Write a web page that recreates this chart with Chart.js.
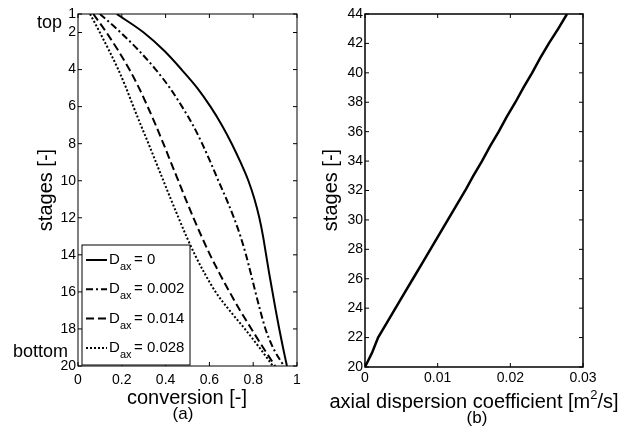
<!DOCTYPE html>
<html>
<head>
<meta charset="utf-8">
<script src="https://cdn.jsdelivr.net/npm/chart.js@4"></script>
<style>
  body { margin: 0; background: #fff; }
  #wrap { position: relative; width: 623px; height: 430px; }
  canvas { position: absolute; top: 0; }
</style>
</head>
<body>
<div id="wrap">
  <canvas id="chartA" width="311" height="430" style="left:0"></canvas>
  <canvas id="chartB" width="312" height="430" style="left:311px"></canvas>
</div>
<script>
// (a) conversion profiles along the column
var stages = [1, 2, 3, 4, 5, 6, 7, 8, 9, 10, 11, 12, 13, 14, 15, 16, 17, 18, 19, 20];
var conv0    = [0.177, 0.30, 0.395, 0.473, 0.545, 0.605, 0.657, 0.702, 0.742, 0.778, 0.806, 0.828, 0.845, 0.859, 0.873, 0.888, 0.903, 0.919, 0.936, 0.954];
var conv002  = [0.10, 0.195, 0.28, 0.355, 0.42, 0.475, 0.525, 0.567, 0.605, 0.641, 0.678, 0.712, 0.742, 0.767, 0.789, 0.81, 0.832, 0.856, 0.89, 0.94];
var conv014  = [0.07, 0.13, 0.185, 0.235, 0.279, 0.318, 0.355, 0.39, 0.424, 0.458, 0.492, 0.527, 0.564, 0.603, 0.646, 0.692, 0.74, 0.792, 0.845, 0.90];
var conv028  = [0.055, 0.10, 0.143, 0.184, 0.22, 0.253, 0.287, 0.322, 0.356, 0.39, 0.424, 0.459, 0.495, 0.534, 0.578, 0.628, 0.692, 0.762, 0.828, 0.89];
var daxLabels = ["0", "0.002", "0.014", "0.028"];
var aYTicks = [1, 2, 4, 6, 8, 10, 12, 14, 16, 18, 20];
var aXTicks = [0, 0.2, 0.4, 0.6, 0.8, 1];

// (b) axial dispersion coefficient per stage
var bStages = [20, 21, 22, 23, 24, 25, 26, 27, 28, 29, 30, 31, 32, 33, 34, 35, 36, 37, 38, 39, 40, 41, 42, 43, 44];
var bCoef = [0, 0.0010, 0.0018, 0.0030, 0.0042, 0.0054, 0.0066, 0.0078, 0.0090, 0.0102, 0.0114, 0.0126, 0.0138, 0.0149, 0.0161, 0.0172, 0.0184, 0.0195, 0.0207, 0.0218, 0.0230, 0.0241, 0.0253, 0.0266, 0.0278];
var bYTicks = [20, 22, 24, 26, 28, 30, 32, 34, 36, 38, 40, 42, 44];
var bXTicks = [0, 0.01, 0.02, 0.03];

var FONT = '"Liberation Sans", Arial, Helvetica, sans-serif';
Chart.defaults.color = '#000';
Chart.defaults.font.family = FONT;

var dashes = [[], [7, 3, 2, 3], [8, 4], [2, 2]];

function toPoints(xs, ys){
    var pts = [];
    for(var i = 0; i < xs.length; i++){
        pts.push({x: xs[i], y: ys[i]});
    }
    return pts;
}

function text(ctx, str, x, y, size, align, rot){
    ctx.save();
    ctx.font = size + 'px ' + FONT;
    ctx.fillStyle = '#000';
    ctx.textAlign = align || 'center';
    ctx.textBaseline = 'middle';
    ctx.translate(x, y);
    if(rot) ctx.rotate(rot);
    ctx.fillText(str, 0, 0);
    ctx.restore();
}

// box round the plot and inward tick marks on all four sides
var boxPlugin = {
    id: 'box',
    afterDatasetsDraw: function(chart, args, opts){
        var ctx = chart.ctx, a = chart.chartArea;
        var xs = chart.scales.x, ys = chart.scales.y;
        ctx.save();
        ctx.strokeStyle = '#000';
        ctx.lineWidth = opts.width || 1;
        ctx.strokeRect(a.left, a.top, a.right - a.left, a.bottom - a.top);
        ctx.lineWidth = 1;
        ctx.beginPath();
        xs.ticks.forEach(function(t){
            var px = xs.getPixelForValue(t.value);
            ctx.moveTo(px, a.bottom); ctx.lineTo(px, a.bottom - 4);
            ctx.moveTo(px, a.top); ctx.lineTo(px, a.top + 4);
        });
        ys.ticks.forEach(function(t){
            var py = ys.getPixelForValue(t.value);
            ctx.moveTo(a.left, py); ctx.lineTo(a.left + 4, py);
            ctx.moveTo(a.right, py); ctx.lineTo(a.right - 4, py);
        });
        ctx.stroke();
        ctx.restore();
    }
};

// legend with subscripts, inside plot (a)
var daxLegend = {
    id: 'daxLegend',
    afterDraw: function(chart){
        var ctx = chart.ctx;
        var x0 = 82, y0 = 245, w = 108, h = 120;
        ctx.save();
        ctx.fillStyle = '#fff';
        ctx.fillRect(x0, y0, w, h);
        ctx.strokeStyle = '#000';
        ctx.lineWidth = 1;
        ctx.strokeRect(x0, y0, w, h);
        chart.data.datasets.forEach(function(ds, i){
            var cy = 260 + i * 29.3;
            ctx.beginPath();
            ctx.setLineDash(ds.borderDash);
            ctx.lineWidth = 2;
            ctx.moveTo(86, cy); ctx.lineTo(107, cy);
            ctx.stroke();
            ctx.setLineDash([]);
            text(ctx, 'D', 109, cy, 15, 'left');
            text(ctx, 'ax', 120, cy + 7, 11, 'left');
            text(ctx, '= ' + daxLabels[i], 134, cy, 15, 'left');
        });
        ctx.restore();
    }
};

var labelsA = {
    id: 'labelsA',
    afterDraw: function(chart){
        var ctx = chart.ctx;
        text(ctx, 'top', 62, 23, 18, 'right');
        text(ctx, 'bottom', 68, 352, 18, 'right');
        text(ctx, 'stages [-]', 46, 190, 20, 'center', -Math.PI / 2);
        text(ctx, 'conversion [-]', 187, 398, 20, 'center');
        text(ctx, '(a)', 183, 414, 17, 'center');
    }
};

var labelsB = {
    id: 'labelsB',
    afterDraw: function(chart){
        var ctx = chart.ctx;
        var ox = -311;
        text(ctx, 'stages [-]', 331 + ox, 190, 20, 'center', -Math.PI / 2);
        // axial dispersion coefficient [m2/s] with superscript
        ctx.save();
        ctx.font = '20px ' + FONT;
        var s1 = 'axial dispersion coefficient [m', s2 = '2', s3 = '/s]';
        var w1 = ctx.measureText(s1).width, w3 = ctx.measureText(s3).width;
        ctx.font = '13px ' + FONT;
        var w2 = ctx.measureText(s2).width;
        ctx.restore();
        var start = 474 + ox - (w1 + w2 + w3) / 2;
        text(ctx, s1, start, 402, 20, 'left');
        text(ctx, s2, start + w1, 395, 13, 'left');
        text(ctx, s3, start + w1 + w2, 402, 20, 'left');
        text(ctx, '(b)', 477 + ox, 418, 17, 'center');
    }
};

function fixWidth(w){ return function(scale){ scale.width = w; }; }
function fixHeight(h){ return function(scale){ scale.height = h; }; }
function setTicks(list){
    return function(scale){ scale.ticks = list.map(function(v){ return {value: v}; }); };
}

var datasetsA = [conv0, conv002, conv014, conv028].map(function(c, i){
    return {
        label: 'D_ax = ' + daxLabels[i],
        data: toPoints(c, stages),
        borderColor: '#000',
        borderWidth: 2,
        borderDash: dashes[i],
        pointRadius: 0,
        cubicInterpolationMode: 'monotone',
        fill: false
    };
});

new Chart(document.getElementById('chartA'), {
    type: 'line',
    data: { datasets: datasetsA },
    options: {
        responsive: false,
        animation: false,
        maintainAspectRatio: false,
        layout: { padding: { top: 14, right: 14, left: 0, bottom: 0 } },
        plugins: { legend: { display: false }, tooltip: { enabled: false }, box: { width: 1 } },
        scales: {
            x: {
                type: 'linear', min: 0, max: 1,
                afterBuildTicks: setTicks(aXTicks),
                afterFit: fixHeight(64),
                grid: { display: false, drawTicks: false },
                border: { display: false },
                ticks: { font: { size: 14 }, padding: 6, maxRotation: 0,
                    callback: function(v){ return v; } }
            },
            y: {
                type: 'linear', min: 1, max: 20, reverse: true,
                afterBuildTicks: setTicks(aYTicks),
                afterFit: fixWidth(78),
                grid: { display: false, drawTicks: false },
                border: { display: false },
                ticks: { font: { size: 14 }, padding: 2 }
            }
        }
    },
    plugins: [boxPlugin, daxLegend, labelsA]
});

new Chart(document.getElementById('chartB'), {
    type: 'line',
    data: {
        datasets: [{
            label: 'axial dispersion coefficient',
            data: toPoints(bCoef, bStages),
            borderColor: '#000',
            borderWidth: 2.5,
            pointRadius: 0,
            fill: false
        }]
    },
    options: {
        responsive: false,
        animation: false,
        maintainAspectRatio: false,
        layout: { padding: { top: 14, right: 40, left: 0, bottom: 0 } },
        plugins: { legend: { display: false }, tooltip: { enabled: false }, box: { width: 1.5 } },
        scales: {
            x: {
                type: 'linear', min: 0, max: 0.03,
                afterBuildTicks: setTicks(bXTicks),
                afterFit: fixHeight(63),
                grid: { display: false, drawTicks: false },
                border: { display: false },
                ticks: { font: { size: 14 }, padding: 3, maxRotation: 0,
                    callback: function(v){ return v; } }
            },
            y: {
                type: 'linear', min: 20, max: 44,
                afterBuildTicks: setTicks(bYTicks),
                afterFit: fixWidth(54),
                grid: { display: false, drawTicks: false },
                border: { display: false },
                ticks: { font: { size: 14 }, padding: 2 }
            }
        }
    },
    plugins: [boxPlugin, labelsB]
});
</script>
</body>
</html>
